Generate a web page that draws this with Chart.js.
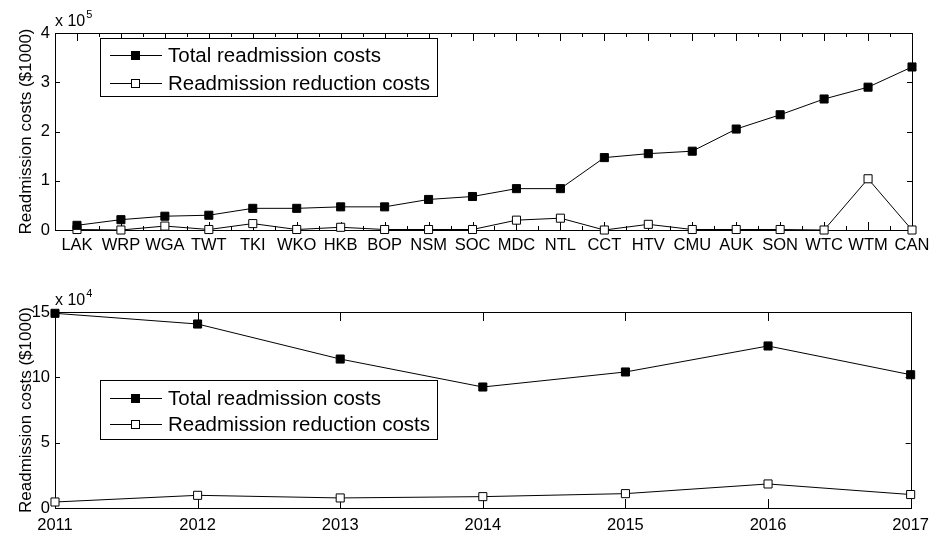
<!DOCTYPE html>
<html>
<head>
<meta charset="utf-8">
<script src="https://cdn.jsdelivr.net/npm/chart.js@4.4.0/dist/chart.umd.min.js"></script>
<style>
  body { margin: 0; background: #fff; }
  canvas { position: absolute; left: 0; }
</style>
</head>
<body>
<canvas id="regionChart" width="937" height="260" style="top:0"></canvas>
<canvas id="yearChart" width="937" height="276" style="top:260px"></canvas>
<script>
// data (costs in $1000)
var regions = ['LAK', 'WRP', 'WGA', 'TWT', 'TKI', 'WKO', 'HKB', 'BOP', 'NSM', 'SOC',
               'MDC', 'NTL', 'CCT', 'HTV', 'CMU', 'AUK', 'SON', 'WTC', 'WTM', 'CAN'];
var totalByRegion = [9500, 21000, 28000, 30000, 44000, 44000, 47000, 47000, 62000, 68000,
                     84000, 84000, 147000, 155000, 160000, 205000, 234000, 266000, 290000, 331000];
var reductionByRegion = [1000, 0, 8000, 1000, 13000, 1000, 5500, 1000, 1000, 1000,
                         20000, 24000, 0, 11500, 1000, 1000, 1000, 0, 104000, 0];

var years = [2011, 2012, 2013, 2014, 2015, 2016, 2017];
var totalByYear = [149000, 140800, 114000, 92600, 104100, 124000, 102000];
var reductionByYear = [4600, 9700, 7700, 8700, 11000, 18400, 10300];

var seriesNames = ['Total readmission costs', 'Readmission reduction costs'];
var yTitle = 'Readmission costs ($1000)';

var FONT = '"Liberation Sans", Arial, sans-serif';

// box around the axes + inward tick marks (matlab look)
var frame = {
  id: 'frame',
  beforeDatasetsDraw: function(chart, args, o) {
    var ctx = chart.ctx, a = chart.chartArea, x = chart.scales.x, y = chart.scales.y;
    ctx.save();
    ctx.strokeStyle = '#000';
    ctx.lineWidth = 1;
    ctx.strokeRect(Math.round(a.left) + 0.5, Math.round(a.top) + 0.5,
                   Math.round(a.right - a.left), Math.round(a.bottom - a.top));
    ctx.beginPath();
    x.ticks.forEach(function(t) {
      var px = Math.round(x.getPixelForValue(t.value)) + 0.5;
      ctx.moveTo(px, a.top); ctx.lineTo(px, a.top + o.xLen);
      ctx.moveTo(px, a.bottom); ctx.lineTo(px, a.bottom - o.xLen);
      if (o.minor && t.value - 0.5 >= x.min) {
        var mx = Math.round(x.getPixelForValue(t.value - 0.5)) + 0.5;
        ctx.moveTo(mx, a.top); ctx.lineTo(mx, a.top + o.minor);
        ctx.moveTo(mx, a.bottom); ctx.lineTo(mx, a.bottom - o.minor);
      }
    });
    y.ticks.forEach(function(t) {
      var py = Math.round(y.getPixelForValue(t.value)) + 0.5;
      ctx.moveTo(a.left, py); ctx.lineTo(a.left + o.yLen, py);
      ctx.moveTo(a.right, py); ctx.lineTo(a.right - o.yLen, py);
    });
    ctx.stroke();
    ctx.restore();
  },
  afterDraw: function(chart, args, o) {
    var ctx = chart.ctx, a = chart.chartArea;
    ctx.save();
    ctx.fillStyle = '#000';
    ctx.textBaseline = 'alphabetic';
    ctx.font = '16px ' + FONT;
    ctx.fillText('x 10', a.left, a.top - 7);
    var w = ctx.measureText('x 10').width;
    ctx.font = '11px ' + FONT;
    ctx.fillText(o.exp, a.left + w + 1, a.top - 15);

    // legend box
    var b = o.legend;
    ctx.fillStyle = '#fff';
    ctx.fillRect(b.x, b.y, b.w, b.h);
    ctx.strokeStyle = '#000';
    ctx.lineWidth = 1;
    ctx.strokeRect(b.x + 0.5, b.y + 0.5, b.w, b.h);
    chart.data.datasets.forEach(function(ds, i) {
      var cy = b.y + b.row0 + i * b.gap;
      ctx.beginPath();
      ctx.moveTo(b.x + 10, cy + 0.5);
      ctx.lineTo(b.x + 62, cy + 0.5);
      ctx.stroke();
      ctx.fillStyle = ds.pointBackgroundColor;
      ctx.fillRect(b.x + 31.5, cy - 3.5, 8, 8);
      ctx.strokeRect(b.x + 31.5, cy - 3.5, 8, 8);
      ctx.fillStyle = '#000';
      ctx.font = '20.5px ' + FONT;
      ctx.textBaseline = 'middle';
      ctx.fillText(ds.label, b.x + 68, cy + 1);
    });
    ctx.restore();
  }
};

function line(label, xs, ys, fill) {
  return {
    label: label,
    data: xs.map(function(v, i) { return {x: v, y: ys[i]}; }),
    borderColor: '#000',
    borderWidth: 1,
    pointStyle: 'rect',
    pointRadius: 5.7,
    pointBackgroundColor: fill,
    pointBorderColor: '#000',
    pointBorderWidth: 1,
    tension: 0,
    clip: false
  };
}

function makeChart(id, opts) {
  return new Chart(document.getElementById(id), {
    type: 'line',
    data: {
      datasets: [
        line(seriesNames[0], opts.xs, opts.total, '#000'),
        line(seriesNames[1], opts.xs, opts.reduction, '#fff')
      ]
    },
    options: {
      responsive: false,
      animation: false,
      layout: { padding: { top: opts.padTop, right: 25, left: 0, bottom: 0 } },
      plugins: {
        legend: { display: false },
        tooltip: { enabled: false },
        frame: { xLen: opts.xLen, yLen: 5, minor: opts.minor, exp: opts.exp, legend: opts.legend }
      },
      scales: {
        x: {
          type: 'linear',
          min: opts.xMin,
          max: opts.xMax,
          grid: { display: false, drawTicks: false },
          border: { display: false },
          afterFit: function(s) { s.height = opts.xHeight; },
          ticks: {
            stepSize: 1,
            includeBounds: false,
            autoSkip: false,
            maxRotation: 0,
            padding: opts.xPad,
            color: '#000',
            font: { family: FONT, size: 16.5 },
            callback: opts.xLabel
          }
        },
        y: {
          min: 0,
          max: opts.yMax,
          grid: { display: false, drawTicks: false },
          border: { display: false },
          afterFit: function(s) { s.width = 55; },
          title: {
            display: true,
            text: yTitle,
            color: '#000',
            font: { family: FONT, size: 17 },
            padding: { top: 16, bottom: 0 }
          },
          ticks: {
            stepSize: opts.yStep,
            padding: 5,
            color: '#000',
            font: { family: FONT, size: 16.5 },
            callback: function(v) { return v / opts.scaleBy; }
          }
        }
      }
    },
    plugins: [frame]
  });
}

makeChart('regionChart', {
  xs: regions.map(function(r, i) { return i + 1; }),
  total: totalByRegion,
  reduction: reductionByRegion,
  xMin: 0.5, xMax: regions.length,
  xLabel: function(v) { return regions[v - 1]; },
  yMax: 400000, yStep: 100000, scaleBy: 100000, exp: '5',
  padTop: 33, xHeight: 30, xPad: 6, xLen: 8, minor: 4,
  legend: { x: 100, y: 38, w: 337, h: 58, row0: 17, gap: 28 }
});

makeChart('yearChart', {
  xs: years,
  total: totalByYear,
  reduction: reductionByYear,
  xMin: years[0], xMax: years[years.length - 1],
  xLabel: function(v) { return String(v); },
  yMax: 150000, yStep: 50000, scaleBy: 10000, exp: '4',
  padTop: 52, xHeight: 28, xPad: 8, xLen: 9, minor: 0,
  legend: { x: 100, y: 120, w: 337, h: 59, row0: 18, gap: 26 }
});
</script>
</body>
</html>
